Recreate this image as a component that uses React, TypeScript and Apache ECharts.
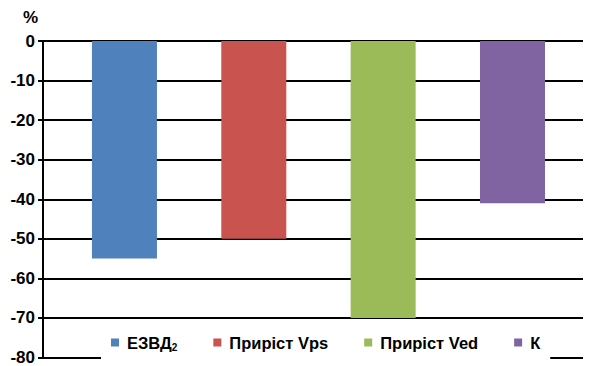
import React, { useEffect, useRef } from "react";
import * as echarts from "echarts";

// Change indicators, %
const seriesNames = ["ЕЗВД", "Приріст Vps", "Приріст Ved", "К"];
const seriesValues = [-55, -50, -70, -41];
const seriesColors = ["#4f81bd", "#c9534f", "#9bbb59", "#8064a2"];
const yTicks = { min: -80, max: 0, interval: 10 };
const unitLabel = "%";

const FONT = "'Liberation Sans', Arial, sans-serif";

export default function App() {
  const ref = useRef<HTMLDivElement>(null);

  useEffect(() => {
    if (!ref.current) return;
    const chart = echarts.init(ref.current, null, { renderer: "svg" });

    // empty narrow column that nudges the bar group a few pixels to the right
    const spacer = {
      name: "spacer",
      type: "bar" as const,
      data: [null],
      barWidth: 5.5,
      silent: true,
    };

    const series = seriesNames.map((name, i) => ({
      name,
      type: "bar" as const,
      data: [seriesValues[i]],
      barWidth: 65,
      barGap: "99%",
      itemStyle: { color: seriesColors[i] },
    }));

    chart.setOption({
      animation: false,
      backgroundColor: "#ffffff",
      grid: { left: 43, right: 8, top: 41, bottom: 6, containLabel: false },
      xAxis: {
        type: "category",
        data: [""],
        axisLine: { show: false },
        axisTick: { show: false },
        axisLabel: { show: false },
      },
      yAxis: {
        type: "value",
        min: yTicks.min,
        max: yTicks.max,
        interval: yTicks.interval,
        axisLine: { show: true, lineStyle: { color: "#000", width: 2 } },
        axisTick: { show: true, length: 5, lineStyle: { color: "#000", width: 2 } },
        axisLabel: {
          color: "#000",
          fontFamily: FONT,
          fontWeight: "bold",
          fontSize: 17,
          margin: 8,
        },
        splitLine: { show: true, lineStyle: { color: "#000", width: 2 } },
      },
      legend: {
        data: seriesNames,
        left: 101,
        top: 326,
        padding: [8, 10],
        backgroundColor: "#ffffff",
        icon: "rect",
        itemWidth: 8,
        itemHeight: 8,
        itemGap: 36,
        formatter: (name: string) =>
          name === "ЕЗВД" ? "{t|ЕЗВД}{s|2}" : "{t|" + name + "}",
        textStyle: {
          padding: [0, 0, 0, 3],
          rich: {
            t: {
              color: "#000",
              fontFamily: FONT,
              fontWeight: "bold",
              fontSize: 16.5,
            },
            s: {
              color: "#000",
              fontFamily: FONT,
              fontWeight: "bold",
              fontSize: 10,
              padding: [10, 0, 0, 0],
            },
          },
        },
      },
      graphic: [
        {
          type: "text",
          left: 23,
          top: 9,
          style: {
            text: unitLabel,
            fill: "#000",
            font: "bold 17px " + FONT,
          },
        },
      ],
      series: [spacer, ...series],
    });

    return () => chart.dispose();
  }, []);

  return (
    <div
      ref={ref}
      style={{ position: "absolute", left: 0, top: 0, width: 591, height: 366 }}
    />
  );
}
